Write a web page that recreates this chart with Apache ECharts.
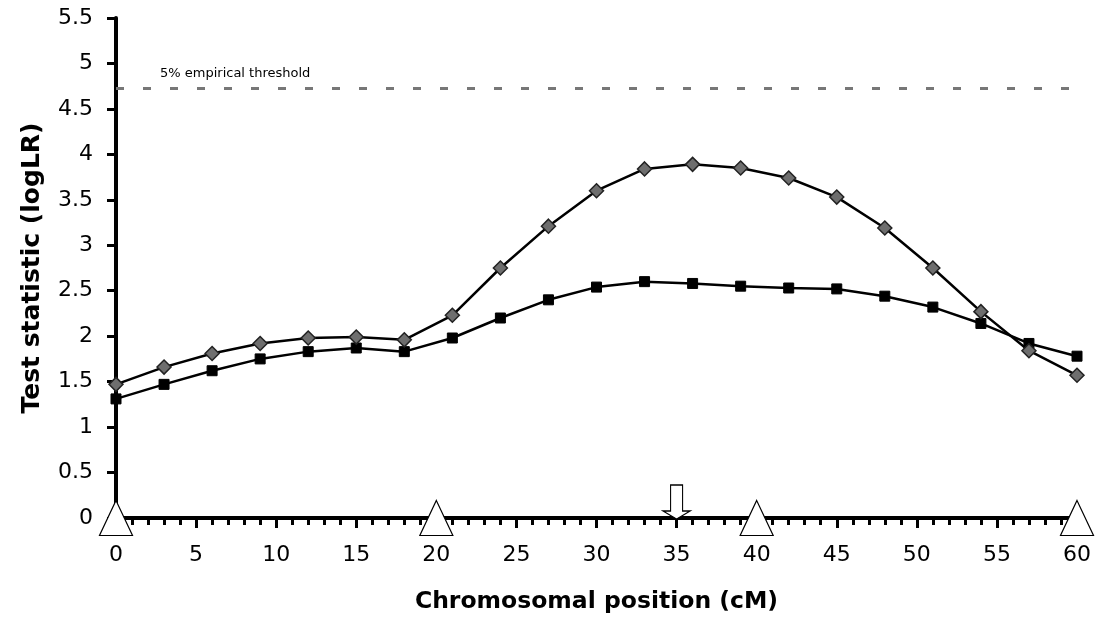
<!DOCTYPE html>
<html>
<head>
<meta charset="utf-8">
<title>Test statistic along chromosome</title>
<script src="https://cdn.jsdelivr.net/npm/echarts@6/dist/echarts.min.js"></script>
<style>
  html, body { margin: 0; padding: 0; background: #fff; }
  #chart { width: 1096px; height: 629px; }
</style>
</head>
<body>
<div id="chart"></div>
<script>
// positions in cM where the statistic was computed
const positions = [0, 3, 6, 9, 12, 15, 18, 21, 24, 27, 30, 33, 36, 39, 42, 45, 48, 51, 54, 57, 60];
// diamond series (grey diamonds)
const diamondVals = [1.47, 1.66, 1.81, 1.92, 1.98, 1.99, 1.96, 2.23, 2.75, 3.21, 3.60, 3.84, 3.89, 3.85, 3.74, 3.53, 3.19, 2.75, 2.27, 1.84, 1.57];
// square series (black squares)
const squareVals = [1.31, 1.47, 1.62, 1.75, 1.83, 1.87, 1.83, 1.98, 2.20, 2.40, 2.54, 2.60, 2.58, 2.55, 2.53, 2.52, 2.44, 2.32, 2.14, 1.92, 1.78];
// marker loci (open triangles) and the arrow position
const markerPos = [0, 20, 40, 60];
const arrowPos = [35];
const threshold = 4.73;
const thresholdLabel = "5% empirical threshold";

const chart = echarts.init(document.getElementById("chart"));

// wide sans to get close to the stretched lettering of the original
const font = "DejaVu Sans, Verdana, sans-serif";
// hollow down arrow
const arrowPath = "path://M7.5,0 L19.5,0 L19.5,26 L27,26 L13.5,34 L0,26 L7.5,26 Z";

const option = {
  animation: false,
  backgroundColor: "#fff",
  grid: {
    left: 116,
    right: 19,
    top: 18,
    bottom: 111,
  },
  xAxis: {
    type: "value",
    min: 0,
    max: 60,
    interval: 5,
    name: "Chromosomal position (cM)",
    nameLocation: "middle",
    nameGap: 72,
    nameTextStyle: {
      fontFamily: font,
      fontSize: 23.5,
      fontWeight: "bold",
      color: "#000",
    },
    axisLine: {
      onZero: true,
      lineStyle: { color: "#000", width: 4 },
    },
    axisTick: {
      show: true,
      length: 10,
      lineStyle: { color: "#000", width: 3 },
    },
    minorTick: {
      show: true,
      splitNumber: 5,
      length: 7,
      lineStyle: { color: "#000", width: 3 },
    },
    axisLabel: {
      margin: 26,
      fontFamily: font,
      fontSize: 22,
      color: "#000",
    },
    splitLine: { show: false },
  },
  yAxis: {
    type: "value",
    min: 0,
    max: 5.5,
    interval: 0.5,
    name: "Test statistic (logLR)",
    nameLocation: "middle",
    nameGap: 71,
    nameTextStyle: {
      fontFamily: font,
      fontSize: 25,
      fontWeight: "bold",
      color: "#000",
    },
    axisLine: {
      show: true,
      lineStyle: { color: "#000", width: 4 },
    },
    axisTick: {
      show: true,
      length: 9,
      lineStyle: { color: "#000", width: 3 },
    },
    axisLabel: {
      margin: 23,
      fontFamily: font,
      fontSize: 22,
      color: "#000",
    },
    splitLine: { show: false },
  },
  series: [
    {
      name: "squares",
      type: "line",
      data: positions.map((p, i) => [p, squareVals[i]]),
      symbol: "rect",
      symbolSize: 10,
      showAllSymbol: true,
      clip: false,
      lineStyle: { color: "#000", width: 2.5 },
      itemStyle: { color: "#000", borderColor: "#000", borderWidth: 1 },
      z: 3,
    },
    {
      name: "diamonds",
      type: "line",
      data: positions.map((p, i) => [p, diamondVals[i]]),
      symbol: "diamond",
      symbolSize: 14,
      showAllSymbol: true,
      clip: false,
      lineStyle: { color: "#000", width: 2.5 },
      itemStyle: { color: "#6e6e6e", borderColor: "#222", borderWidth: 1.5 },
      z: 4,
      markLine: {
        silent: true,
        symbol: "none",
        lineStyle: { color: "#777", width: 3, type: [8, 19] },
        label: {
          show: true,
          position: "insideStartTop",
          distance: [44, 8],
          formatter: thresholdLabel,
          fontFamily: font,
          fontSize: 13,
          color: "#000",
        },
        data: [{ yAxis: threshold }],
      },
    },
    {
      name: "markers",
      type: "scatter",
      data: markerPos.map((p) => [p, 0]),
      symbol: "triangle",
      symbolSize: [33, 35],
      clip: false,
      itemStyle: { color: "#fff", borderColor: "#000", borderWidth: 1.2, opacity: 1 },
      z: 6,
    },
    {
      name: "arrow",
      type: "scatter",
      data: arrowPos.map((p) => [p, 0]),
      symbol: arrowPath,
      symbolSize: [27, 34],
      symbolOffset: [0, -16],
      clip: false,
      itemStyle: { color: "#fff", borderColor: "#000", borderWidth: 1.2, opacity: 1 },
      z: 6,
    },
  ],
};

chart.setOption(option);
</script>
</body>
</html>
